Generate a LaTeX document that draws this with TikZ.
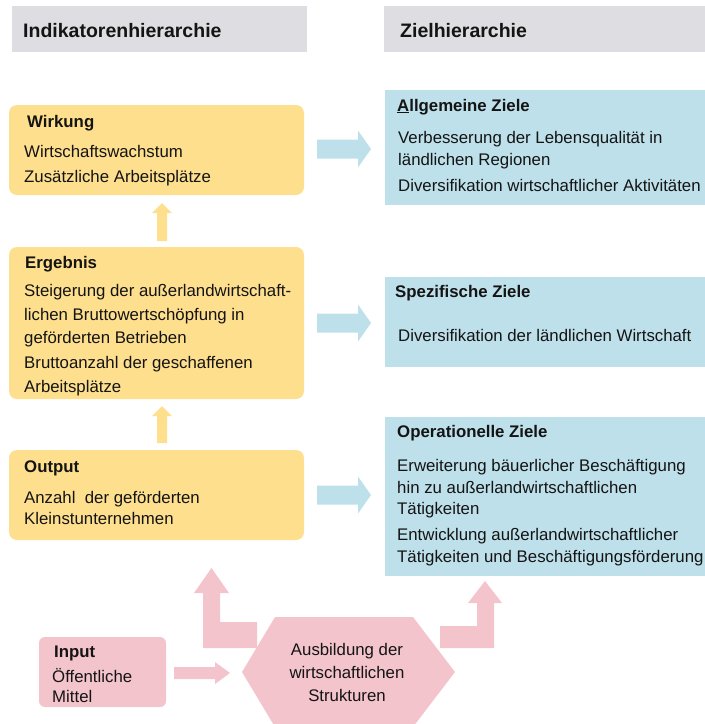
\documentclass[tikz,border=0pt]{standalone}
\usepackage{fontspec}
\setmainfont{Liberation Sans}
\definecolor{ylw}{RGB}{253,223,142}
\definecolor{blu}{RGB}{190,224,234}
\definecolor{pnk}{RGB}{244,196,204}
\definecolor{gry}{RGB}{222,222,226}
\definecolor{ink}{RGB}{20,20,20}
\begin{document}
\begin{tikzpicture}[x=1pt,y=-1pt,
  txt/.style={inner sep=0pt, anchor=base west, text=ink, font=\fontsize{16.8}{20}\selectfont},
  ttl/.style={inner sep=0pt, anchor=base west, text=ink, font=\fontsize{16.8}{20}\selectfont\bfseries},
  hdr/.style={inner sep=0pt, anchor=base west, text=ink, font=\fontsize{19.5}{22}\selectfont\bfseries},
  ctr/.style={inner sep=0pt, anchor=base, text=ink, font=\fontsize{16.8}{20}\selectfont},
  ybox/.style={fill=ylw, rounded corners=8pt},
  bbox/.style={fill=blu},
  pbox/.style={fill=pnk, rounded corners=6pt}]
\useasboundingbox (0,0) rectangle (705,724);

% headers
\fill[gry] (12,6) rectangle (307,52);
\fill[gry] (384,6) rectangle (705,52);
\node[hdr] (h1) at (23,37) {Indikatorenhierarchie};
\node[hdr] (h2) at (400,37) {Zielhierarchie};

% yellow boxes
\fill[ybox] (9,105) rectangle (304,195);
\fill[ybox] (9,247) rectangle (304,399);
\fill[ybox] (9,450) rectangle (304,540);

% blue boxes
\fill[bbox] (385,90) rectangle (705,205);
\fill[bbox] (385,277) rectangle (705,367);
\fill[bbox] (385,417) rectangle (705,576);

% blue arrows
\foreach \c in {149,323,495}{
  \fill[blu] (317,\c-9.5) -- (358,\c-9.5) -- (358,\c-18.5) -- (371,\c) -- (358,\c+18.5) -- (358,\c+9.5) -- (317,\c+9.5) -- cycle;
}

% yellow up arrows
\fill[ylw] (157,241) -- (157,213) -- (152,213) -- (162,203) -- (172,213) -- (167,213) -- (167,241) -- cycle;
\fill[ylw] (157,443) -- (157,416) -- (152,416) -- (162,406) -- (172,416) -- (167,416) -- (167,443) -- cycle;

% pink shapes
\fill[pbox] (39,637) rectangle (166,707);
\fill[pnk] (174,667) -- (215,667) -- (215,662) -- (230,673) -- (215,684) -- (215,679) -- (174,679) -- cycle;
\fill[pnk] (242,672) -- (275,617) -- (413,617) -- (455,672) -- (413,727) -- (275,727) -- cycle;
\fill[pnk] (257,622) -- (220,622) -- (220,593) -- (229,593) -- (211.5,568) -- (194,593) -- (203,593) -- (203,648) -- (257,648) -- cycle;
\fill[pnk] (440,626) -- (477,626) -- (477,603) -- (468,603) -- (485,581) -- (502,603) -- (494,603) -- (494,648) -- (440,648) -- cycle;

% Wirkung
\node[ttl] (w0) at (27,127) {Wirkung};
\node[txt] (w1) at (24,157) {Wirtschaftswachstum};
\node[txt] (w2) at (24,182) {Zusätzliche Arbeitsplätze};

% Ergebnis
\node[ttl] (e0) at (25,268) {Ergebnis};
\node[txt] (e1) at (24,296) {Steigerung der außerlandwirtschaft-};
\node[txt] (e2) at (24,320) {lichen Bruttowertschöpfung in};
\node[txt] (e3) at (24,343) {geförderten Betrieben};
\node[txt] (e4) at (24,368) {Bruttoanzahl der geschaffenen};
\node[txt] (e5) at (24,392) {Arbeitsplätze};

% Output
\node[ttl] (o0) at (24,472) {Output};
\node[txt] (o1) at (24,503) {Anzahl\ \ der geförderten};
\node[txt] (o2) at (24,524) {Kleinstunternehmen};

% Allgemeine Ziele
\node[ttl] (a0) at (397,111) {\underline{A}llgemeine Ziele};
\node[txt] (a1) at (398,143) {Verbesserung der Lebensqualität in};
\node[txt] (a2) at (398,165) {ländlichen Regionen};
\node[txt] (a3) at (398,191) {Diversifikation wirtschaftlicher Aktivitäten};

% Spezifische Ziele
\node[ttl] (s0) at (395,297) {Spezifische Ziele};
\node[txt] (s1) at (398,341) {Diversifikation der ländlichen Wirtschaft};

% Operationelle Ziele
\node[ttl] (p0) at (397,437) {Operationelle Ziele};
\node[txt] (p1) at (397,471) {Erweiterung bäuerlicher Beschäftigung};
\node[txt] (p2) at (397,493) {hin zu außerlandwirtschaftlichen};
\node[txt] (p3) at (397,514) {Tätigkeiten};
\node[txt] (p4) at (397,540) {Entwicklung außerlandwirtschaftlicher};
\node[txt] (p5) at (397,562) {Tätigkeiten und Beschäftigungsförderung};

% Input
\node[ttl] (i0) at (54,657) {Input};
\node[txt] (i1) at (52,682) {Öffentliche};
\node[txt] (i2) at (52,702) {Mittel};

% Hexagon text
\node[ctr] (x1) at (347,655) {Ausbildung der};
\node[ctr] (x2) at (347,678) {wirtschaftlichen};
\node[ctr] (x3) at (347,701) {Strukturen};
\end{tikzpicture}
\end{document}
